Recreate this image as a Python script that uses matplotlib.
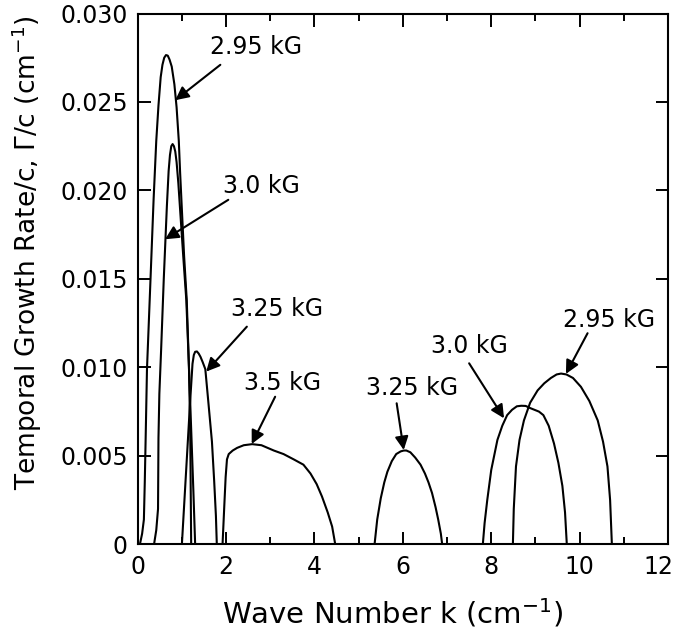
import matplotlib
matplotlib.use("Agg")
import matplotlib.pyplot as plt
import matplotlib.transforms as mtransforms
from matplotlib.ticker import MultipleLocator, FuncFormatter

# Curvas de la tasa de crecimiento temporal
k_295_low = [0.05, 0.10, 0.14, 0.16, 0.18, 0.21, 0.29, 0.36, 0.42, 0.47, 0.52, 0.56, 0.60, 0.64,
             0.68, 0.72, 0.77, 0.83, 0.88, 0.93, 0.96, 1.00, 1.05, 1.11, 1.16, 1.19, 1.20, 1.21]
g_295_low = [0, 0.0006, 0.0014, 0.0035, 0.0060, 0.0099, 0.0150, 0.0195, 0.0228, 0.0248, 0.0264,
             0.0271, 0.0275, 0.02765, 0.02762, 0.0274, 0.0270, 0.0260, 0.0247, 0.0228, 0.0210,
             0.0189, 0.0163, 0.0138, 0.0100, 0.0060, 0.0030, 0]

k_30_low = [0.37, 0.42, 0.46, 0.47, 0.49, 0.53, 0.59, 0.66, 0.70, 0.73, 0.76, 0.79, 0.82, 0.85,
            0.88, 0.92, 0.96, 1.03, 1.10, 1.16, 1.21, 1.26, 1.30]
g_30_low = [0, 0.0008, 0.0020, 0.0060, 0.0085, 0.0110, 0.0150, 0.0191, 0.0211, 0.0220, 0.0225,
            0.02262, 0.0225, 0.0222, 0.0216, 0.0204, 0.0189, 0.0163, 0.0138, 0.0100, 0.0065,
            0.0030, 0]

k_325_low = [1.00, 1.06, 1.12, 1.18, 1.24, 1.27, 1.30, 1.34, 1.38, 1.42, 1.47, 1.53, 1.60, 1.68,
             1.73, 1.77, 1.79]
g_325_low = [0, 0.0026, 0.0052, 0.0078, 0.0102, 0.0107, 0.01088, 0.0109, 0.01078, 0.0106, 0.0103,
             0.0099, 0.0080, 0.0058, 0.0036, 0.0016, 0]

k_35 = [1.92, 1.96, 1.99, 2.02, 2.06, 2.15, 2.25, 2.40, 2.59, 2.80, 3.08, 3.30, 3.53, 3.75,
        3.91, 4.05, 4.17, 4.30, 4.40, 4.47]
g_35 = [0, 0.0022, 0.0038, 0.0048, 0.0051, 0.0053, 0.00545, 0.0056, 0.00566, 0.0056, 0.0053,
        0.0051, 0.0048, 0.0045, 0.0040, 0.0034, 0.0027, 0.0018, 0.0010, 0]

k_325_mid = [5.36, 5.42, 5.50, 5.58, 5.65, 5.75, 5.85, 5.95, 6.02, 6.08, 6.17, 6.28, 6.40, 6.50,
             6.58, 6.66, 6.74, 6.80, 6.86, 6.89]
g_325_mid = [0, 0.0014, 0.0026, 0.0035, 0.0041, 0.0047, 0.0051, 0.00525, 0.0053, 0.0053, 0.0052,
             0.0049, 0.0045, 0.0040, 0.0035, 0.0029, 0.0021, 0.0014, 0.0006, 0]

k_30_high = [7.81, 7.85, 7.91, 8.00, 8.14, 8.25, 8.36, 8.47, 8.58, 8.68, 8.78, 8.88, 8.98, 9.08,
             9.18, 9.30, 9.42, 9.52, 9.61, 9.67, 9.71]
g_30_high = [0, 0.0012, 0.0025, 0.0042, 0.0059, 0.0067, 0.0073, 0.0076, 0.0078, 0.00783, 0.00782,
             0.0077, 0.0076, 0.0075, 0.0073, 0.0067, 0.0057, 0.0046, 0.0033, 0.0018, 0]

k_295_high = [8.49, 8.51, 8.56, 8.64, 8.74, 8.88, 9.05, 9.20, 9.35, 9.48, 9.58, 9.70, 9.85,
              10.03, 10.22, 10.41, 10.53, 10.63, 10.69, 10.73]
g_295_high = [0, 0.0020, 0.0044, 0.0059, 0.0070, 0.0080, 0.0087, 0.0091, 0.0094, 0.0096, 0.00965,
              0.0096, 0.0094, 0.0089, 0.0081, 0.0070, 0.0058, 0.0044, 0.0025, 0]

curvas = [(k_295_low, g_295_low), (k_30_low, g_30_low), (k_325_low, g_325_low), (k_35, g_35),
          (k_325_mid, g_325_mid), (k_30_high, g_30_high), (k_295_high, g_295_high)]

# Etiquetas de campo magnetico
etiquetas = ["2.95 kG", "3.0 kG", "3.25 kG", "3.5 kG", "3.25 kG", "3.0 kG", "2.95 kG"]
pos_texto = [(2.68, 0.02808), (2.81, 0.02025), (3.16, 0.0133), (3.28, 0.00914),
             (6.21, 0.00883), (7.51, 0.01122), (10.66, 0.01268)]
flecha_inicio = [(1.87, 0.0271), (2.05, 0.01947), (2.47, 0.0123), (3.11, 0.00834),
                 (5.86, 0.00797), (7.50, 0.01023), (10.18, 0.01193)]
flecha_fin = [(0.85, 0.0251), (0.62, 0.01724), (1.55, 0.00976), (2.58, 0.00567),
              (6.02, 0.00533), (8.29, 0.00712), (9.69, 0.00963)]

x_ticks = [0, 2, 4, 6, 8, 10, 12]
y_ticks = [0, 0.005, 0.010, 0.015, 0.020, 0.025, 0.030]

fig = plt.figure(figsize=(6.78, 6.32), dpi=100)
ax = fig.add_axes([137.7 / 678, 1 - 544.3 / 632, 530.3 / 678, 530.8 / 632])

for k, g in curvas:
    ax.plot(k, g, color="black", lw=1.5, solid_joinstyle="round", solid_capstyle="round")

for texto, (tx, ty), (ax0, ay0), (ax1, ay1) in zip(etiquetas, pos_texto, flecha_inicio, flecha_fin):
    ax.text(tx, ty, texto, ha="center", va="center", fontsize=17)
    ax.annotate("", xy=(ax1, ay1), xytext=(ax0, ay0),
                arrowprops=dict(arrowstyle="-|>", color="black", lw=1.5,
                                mutation_scale=20, shrinkA=0, shrinkB=0))

ax.set_xlim(0, 12)
ax.set_ylim(0, 0.030)
ax.set_xticks(x_ticks)
ax.set_yticks(y_ticks)
ax.xaxis.set_minor_locator(MultipleLocator(1))
ax.yaxis.set_major_formatter(FuncFormatter(lambda v, p: "0" if v == 0 else f"{v:.3f}"))
ax.tick_params(which="both", direction="in", top=True, right=True, width=1.4, labelsize=17)
ax.tick_params(which="major", length=9)
ax.tick_params(which="minor", length=5)
ax.tick_params(axis="x", pad=8)
ax.tick_params(axis="y", pad=7)
for s in ax.spines.values():
    s.set_linewidth(1.5)

# Desplazo un poco la etiqueta "12" para que no se corte
fig.canvas.draw()
ultima = ax.get_xticklabels()[-1]
ultima.set_transform(ultima.get_transform() + mtransforms.ScaledTranslation(-10 / 100, 0, fig.dpi_scale_trans))

fig.text(393 / 678, 1 - 613 / 632, r"Wave Number k (cm$^{-1}$)", ha="center", va="center", fontsize=21)
fig.text(27 / 678, 1 - 253 / 632, r"Temporal Growth Rate/c, $\Gamma$/c (cm$^{-1}$)",
         ha="center", va="center", rotation=90, fontsize=19)

fig.savefig("out.png", dpi=100)
